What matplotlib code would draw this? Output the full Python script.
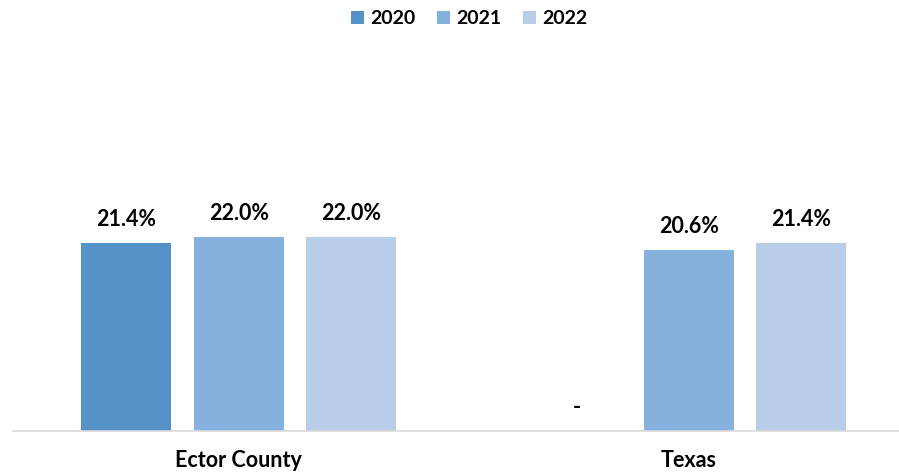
import numpy as np
import matplotlib.pyplot as plt

# ---------------------------------------------------------------
# Data
# ---------------------------------------------------------------
regions = ["Ector County", "Texas"]
years = ["2020", "2021", "2022"]
values_2020 = [21.4, None]
values_2021 = [22.0, 20.6]
values_2022 = [22.0, 21.4]
colors = ["#5592C8", "#86B0DD", "#B8CDE8"]

plt.rcParams['font.family'] = ['Lato', 'DejaVu Sans']
plt.rcParams['font.weight'] = 'bold'

fig = plt.figure(figsize=(8.99, 4.73), dpi=100)
ax = fig.add_axes([13 / 899, 42 / 473, 886 / 899, 396 / 473])

x = np.arange(len(regions))
width = 0.2
offsets = [-0.25, 0.0, 0.25]

for series, year, color, off in zip([values_2020, values_2021, values_2022], years, colors, offsets):
    heights = [v if v is not None else 0 for v in series]
    ax.bar(x + off, heights, width, color=color, label=year)
    for xi, v in zip(x + off, series):
        txt = f"{v:.1f}%" if v is not None else "-"
        h = v if v is not None else 0
        ax.annotate(txt, (xi, h), xytext=(0, 17), textcoords="offset points",
                    ha="center", va="center", fontsize=15.5, fontweight="bold", color="black")

ax.set_xlim(-0.502, 1.467)
ax.set_ylim(0, 45)
ax.set_xticks(x)
ax.set_xticklabels(regions, fontsize=15.5, fontweight="bold")
ax.tick_params(axis="x", length=0, pad=14)
ax.set_yticks([])
for side in ["top", "right", "left"]:
    ax.spines[side].set_visible(False)
ax.spines["bottom"].set_color("#D9D9D9")
ax.spines["bottom"].set_linewidth(1.2)

fig.legend(loc="center", bbox_to_anchor=(469 / 899, 1 - 19 / 473), ncol=3, frameon=False,
           fontsize=14, handlelength=0.7, handleheight=0.7, handletextpad=0.3, columnspacing=1.1)

plt.savefig("out.png", dpi=100)
